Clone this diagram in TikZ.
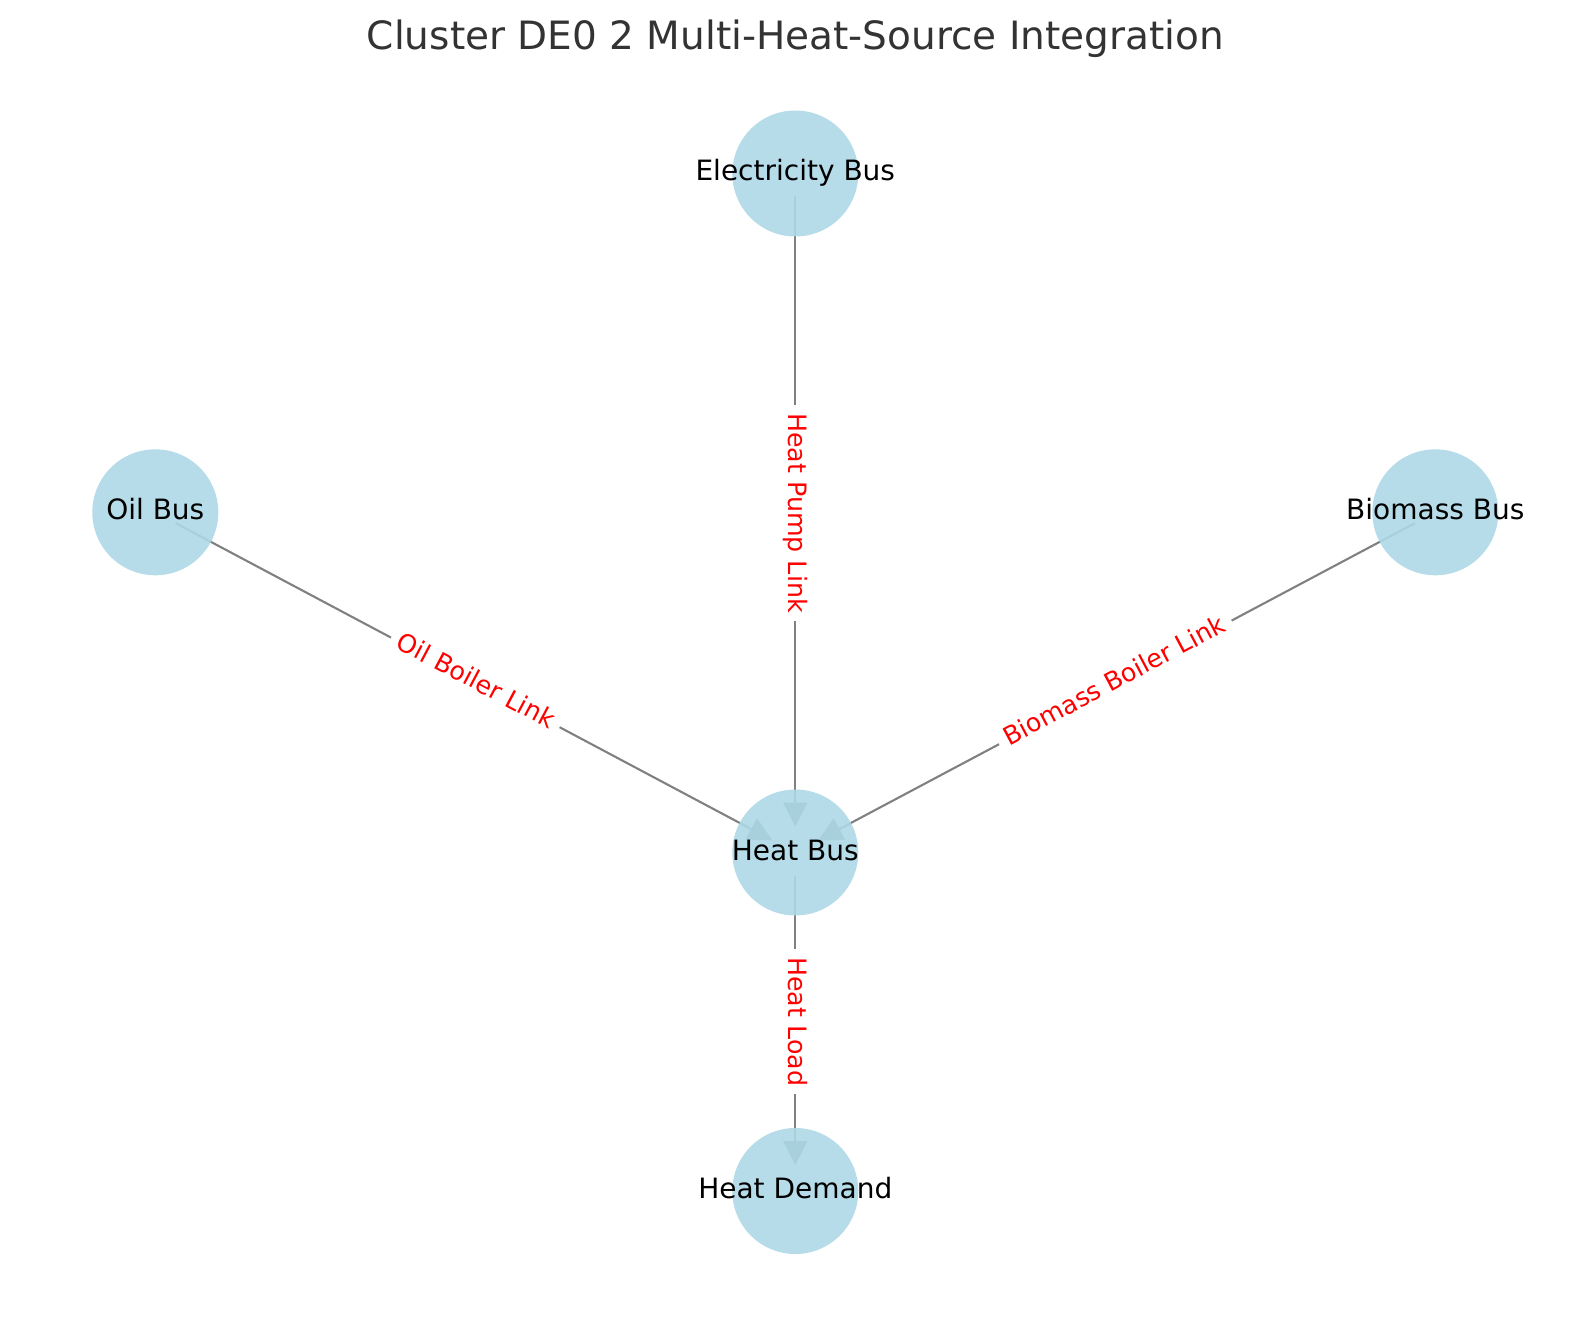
\documentclass[tikz,border=0pt]{standalone}
\usepackage{fontspec}
\setmainfont{DejaVu Sans}
\usetikzlibrary{arrows.meta}
\pgfdeclarelayer{edgelayer}
\pgfsetlayers{edgelayer,main}
\definecolor{nodeblue}{RGB}{173,216,230}
\definecolor{edgegray}{RGB}{128,128,128}
\definecolor{titlegray}{RGB}{51,51,51}
\begin{document}
\begin{tikzpicture}[x=1bp,y=-1bp,
 bus/.style={circle, fill=nodeblue, fill opacity=0.9, minimum size=126bp, inner sep=0pt},
 buslabel/.style={inner sep=0pt, text height=21.5bp, text depth=6.5bp, font=\fontsize{28bp}{32bp}\selectfont},
 flow/.style={draw=edgegray, line width=2.1bp, -{Triangle[length=24bp,width=24bp]}, shorten <=23bp, shorten >=26bp},
 flowlabel/.style={fill=white, text=red, inner xsep=8bp, inner ysep=4bp, text height=19.4bp, text depth=5.9bp, font=\fontsize{25.3bp}{30bp}\selectfont}
]
\useasboundingbox (0,0) rectangle (1589,1318);

\node[anchor=base, text=titlegray, font=\fontsize{39bp}{44bp}\selectfont] (title) at (795.5,49.3) {Cluster DE0 2 Multi-Heat-Source Integration};

\node[bus] (elec) at (795.3,173.5) {};
\node[bus] (oil) at (155.3,512.3) {};
\node[bus] (bio) at (1435.3,512.3) {};
\node[bus] (heat) at (795.3,852.5) {};
\node[bus] (demand) at (795.3,1191) {};

\node[buslabel] (elecL) at (elec) {Electricity Bus};
\node[buslabel] (oilL) at (oil) {Oil Bus};
\node[buslabel] (bioL) at (bio) {Biomass Bus};
\node[buslabel] (heatL) at (heat) {Heat Bus};
\node[buslabel] (demandL) at (demand) {Heat Demand};

\begin{pgfonlayer}{edgelayer}
\draw[flow] (elec.center) -- node[flowlabel, midway, rotate=-90] (lpump) {Heat Pump Link} (heat.center);
\draw[flow] (oil.center) -- node[flowlabel, midway, rotate=-27.99] (loil) {Oil Boiler Link} (heat.center);
\draw[flow] (bio.center) -- node[flowlabel, midway, rotate=27.99] (lbio) {Biomass Boiler Link} (heat.center);
\draw[flow] (heat.center) -- node[flowlabel, midway, rotate=-90] (lload) {Heat Load} (demand.center);
\end{pgfonlayer}
\end{tikzpicture}
\end{document}
